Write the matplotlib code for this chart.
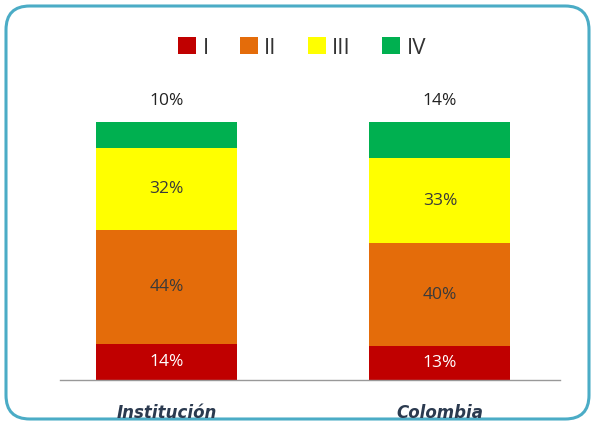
import matplotlib.pyplot as plt
from matplotlib.patches import FancyBboxPatch, Patch

categories = ["Institución", "Colombia"]
levels = ["I", "II", "III", "IV"]
values = {
    "I": [14, 13],
    "II": [44, 40],
    "III": [32, 33],
    "IV": [10, 14],
}
colors = {"I": "#C00000", "II": "#E46C0A", "III": "#FFFF00", "IV": "#00B050"}
text_colors = {"I": "white", "II": "#3a3a3a", "III": "#3a3a3a", "IV": "#222222"}

W, H = 595, 429
fig = plt.figure(figsize=(W / 100, H / 100), dpi=100)
plt.rcParams["font.family"] = ["Open Sans", "DejaVu Sans"]

# rounded frame, kept behind the axes
frame = FancyBboxPatch((6 / W, 10 / H), 583 / W, 413 / H,
                       boxstyle="round,pad=0,rounding_size=0.04",
                       transform=fig.transFigure, facecolor="white",
                       edgecolor="#4BACC6", linewidth=2.2, mutation_aspect=W / H,
                       zorder=-5)
fig.patches.append(frame)

ax = fig.add_axes([60 / W, 49 / H, 500 / W, 258 / H])
ax.set_facecolor("none")
ax.set_zorder(2)
x = [0, 1]
bottom = [0, 0]
for lv in levels:
    vals = values[lv]
    ax.bar(x, vals, width=0.515, bottom=bottom, color=colors[lv], label=lv)
    for i, v in enumerate(vals):
        if lv == "IV":
            y = 100 + 8
        else:
            y = bottom[i] + v / 2
        ax.text(x[i], y, f"{v}%", ha="center", va="center", fontsize=12.5,
                color=text_colors[lv], clip_on=False)
    bottom = [b + v for b, v in zip(bottom, vals)]

ax.set_xlim(-0.389, 1.439)
ax.set_ylim(0, 100)
ax.set_yticks([])
ax.set_xticks(x)
ax.set_xticklabels(categories, fontsize=12, fontweight="bold", fontstyle="italic",
                   color="#2b3a4f", family="DejaVu Sans")
ax.tick_params(axis="x", length=0, pad=17)
for s in ["top", "left", "right"]:
    ax.spines[s].set_visible(False)
ax.spines["bottom"].set_color("#999999")
ax.spines["bottom"].set_linewidth(1)

handles = [Patch(facecolor=colors[lv], label=lv) for lv in levels]
leg = fig.legend(handles=handles, loc="center", bbox_to_anchor=(302 / W, 1 - 48 / H),
                 ncol=4, frameon=False, fontsize=16, handlelength=0.8, handleheight=0.8,
                 handletextpad=0.3, columnspacing=1.4)
for t in leg.get_texts():
    t.set_color("#333333")

fig.savefig("out.png", dpi=100)
